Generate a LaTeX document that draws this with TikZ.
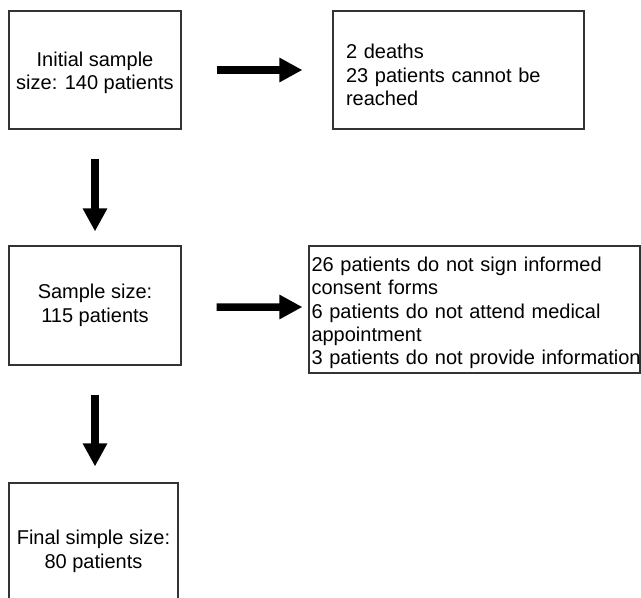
\documentclass[tikz,border=0pt]{standalone}
\usepackage{fontspec}
\setmainfont{Liberation Sans}
\usetikzlibrary{arrows.meta}
\begin{document}
\begin{tikzpicture}[x=1bp,y=-1bp,
  box/.style={draw=black!80, line width=1.1bp, inner sep=0pt, font=\fontsize{20bp}{23.4bp}\selectfont},
  bigarrow/.style={line width=7.5bp, -{Triangle[length=23bp,width=23bp]}}]
\useasboundingbox (0,0) rectangle (641,598);
\clip (0,0) rectangle (641,598);
\node[box, minimum width=172bp, minimum height=118bp, align=center] (b1) at (95,70) {\rule{0pt}{20.5bp}Initial sample\\size: 140 patients};
\node[box, minimum width=251bp, minimum height=118bp, inner xsep=13bp, text width=225bp, align=left] (b2) at (458.5,70) {\rule{0pt}{24.5bp}2 deaths\\\mbox{23 patients cannot be}\\reached};
\node[box, minimum width=172bp, minimum height=119bp, align=center] (b3) at (95,305.5) {Sample size:\\115 patients};
\node[box, minimum width=331bp, minimum height=127bp, inner xsep=2.5bp, text width=326bp, align=left] (b4) at (474.5,309.5) {\rule{0pt}{21.5bp}\mbox{26 patients do not sign informed}\\\mbox{consent forms}\\\mbox{6 patients do not attend medical}\\\mbox{appointment}\\\mbox{3 patients do not provide information}};
\node[box, minimum width=169bp, minimum height=134bp, align=center] (b5) at (93.5,550) {\rule{0pt}{17bp}Final simple size:\\80 patients};
\draw[bigarrow, shorten <=35bp, shorten >=30bp] (b1.east) -- (b2.west);
\draw[bigarrow, shorten <=35bp, shorten >=6bp] ([yshift=-1.5bp]b3.east) -- ([yshift=2.5bp]b4.west);
\draw[bigarrow, shorten <=29bp, shorten >=14bp] (b1.south) -- (b3.north);
\draw[bigarrow, shorten <=29bp, shorten >=16bp] (b3.south) -- (b3.south |- b5.north);
\end{tikzpicture}
\end{document}
